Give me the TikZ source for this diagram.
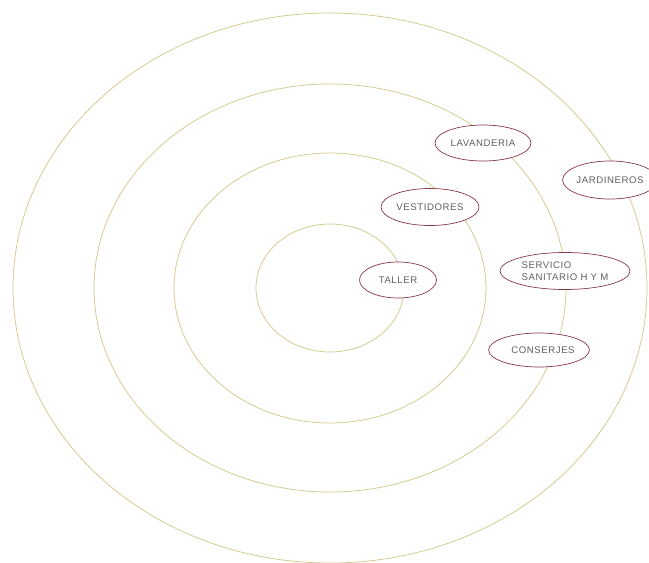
\documentclass[tikz,border=0pt]{standalone}
\usepackage{fontspec}
\newfontfamily\lblfont[LetterSpace=6]{Liberation Sans}
\usetikzlibrary{shapes.geometric}
\definecolor{ringcol}{RGB}{210,200,140}
\definecolor{ellcol}{RGB}{135,55,75}
\definecolor{txtcol}{RGB}{95,95,95}
\tikzset{
  ring/.style={draw=ringcol, line width=0.75pt},
  zone/.style={ellipse, draw=ellcol, fill=white, line width=0.7pt, inner sep=0pt,
    font=\lblfont\fontsize{9.6}{12}\selectfont, text=txtcol},
}
\begin{document}
\begin{tikzpicture}[x=1pt,y=-1pt]
\useasboundingbox (0,0) rectangle (649,563);
\coordinate (c) at (330,288);
\draw[ring] (c) ellipse [x radius=74, y radius=64];
\draw[ring] (c) ellipse [x radius=156, y radius=135];
\draw[ring] (c) ellipse [x radius=236, y radius=204];
\draw[ring] (c) ellipse [x radius=317, y radius=275];

\node[zone, minimum width=96, minimum height=36] (lav) at (483,143) {LAVANDERIA};
\node[zone, minimum width=94, minimum height=38] (jar) at (610,180) {JARDINEROS};
\node[zone, minimum width=98, minimum height=37] (ves) at (430,207) {VESTIDORES};
\node[zone, minimum width=77, minimum height=36] (tal) at (398,280) {TALLER};
\node[zone, minimum width=130, minimum height=37, align=left] (ser) at (565,271) {SERVICIO\\SANITARIO H Y M};
\node[zone, minimum width=88, minimum height=34] (con) at (539,350) {\hspace*{8pt}CONSERJES};
\end{tikzpicture}
\end{document}
